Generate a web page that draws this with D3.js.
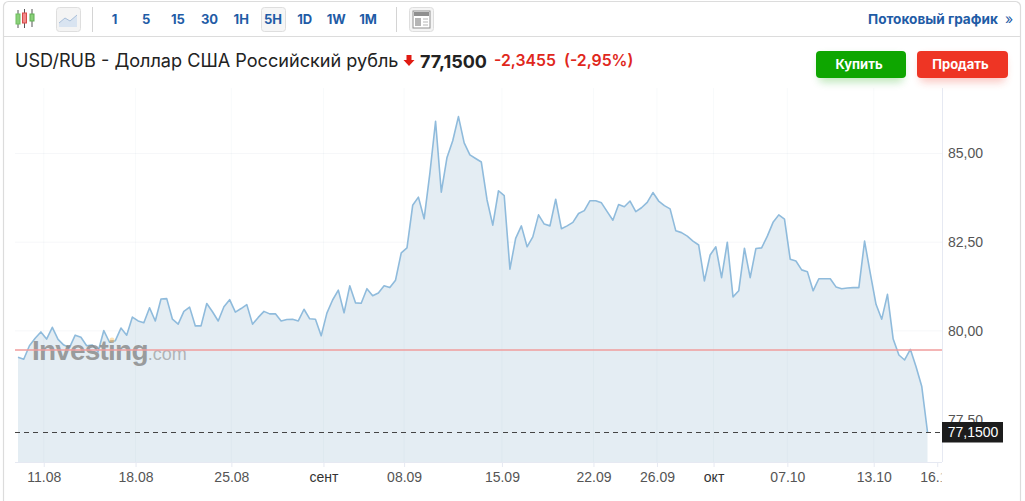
<!DOCTYPE html>
<html>
<head>
<meta charset="utf-8">
<script src="https://cdn.jsdelivr.net/npm/d3@7"></script>
<style>
  html, body { margin: 0; padding: 0; background: #fff; overflow: hidden; }
  svg { display: block; font-family: Inter, "Liberation Sans", sans-serif; }
  .axis text { font-family: "Liberation Sans", Arial, sans-serif; font-size: 14px; fill: #555; }
  .axis .tick line { stroke: #e6e9f2; }
</style>
</head>
<body>
<svg id="chart" width="1025" height="501"></svg>
<script>
// DATA
const prices = [
  79.26, 79.20, 79.58, 79.79, 79.97, 79.77, 80.10, 79.76, 79.60, 79.53,
  79.88, 79.82, 79.58, 79.60, 79.41, 80.01, 79.68, 79.72, 80.08, 79.88,
  80.39, 80.28, 80.23, 80.65, 80.28, 80.90, 80.91, 80.33, 80.19, 80.55,
  80.67, 80.14, 80.14, 80.77, 80.54, 80.28, 80.68, 80.88, 80.53, 80.63,
  80.74, 80.19, 80.38, 80.55, 80.48, 80.48, 80.28, 80.32, 80.33, 80.28,
  80.61, 80.34, 80.33, 79.86, 80.50, 80.87, 81.15, 80.51, 81.27, 80.79,
  80.78, 81.19, 80.99, 81.07, 81.27, 81.22, 81.43, 82.20, 82.34, 83.54,
  83.77, 83.16, 84.44, 85.91, 83.91, 84.89, 85.36, 86.04, 85.30, 84.96,
  84.86, 84.76, 83.69, 82.98, 83.95, 83.81, 81.74, 82.61, 82.96, 82.37,
  82.65, 83.27, 83.01, 82.96, 83.71, 82.88, 82.96, 83.06, 83.31, 83.39,
  83.67, 83.67, 83.61, 83.36, 83.12, 83.56, 83.50, 83.66, 83.36, 83.47,
  83.62, 83.90, 83.66, 83.53, 83.44, 82.82, 82.77, 82.67, 82.53, 82.42,
  81.41, 82.14, 82.37, 81.50, 82.50, 80.96, 81.13, 82.33, 81.50, 82.32,
  82.34, 82.67, 83.06, 83.27, 83.15, 82.02, 81.97, 81.72, 81.67, 81.13,
  81.47, 81.47, 81.47, 81.24, 81.19, 81.21, 81.22, 81.22, 82.53, 81.62,
  80.75, 80.33, 81.03, 79.77, 79.32, 79.18, 79.48, 78.99, 78.43, 77.15
];
const xTickLabels = ["11.08", "18.08", "25.08", "сент", "08.09", "15.09", "22.09", "26.09", "окт", "07.10", "13.10", "16.10"];
const xTickIndex = [4.5, 20.55, 37.3, 53.4, 67.5, 84.6, 100.6, 111.7, 121.6, 134.5, 149.6, 160.7];
const yTicks = [77.5, 80, 82.5, 85];
const prevClose = 79.46;
const lastPrice = 77.15;
const intervals = ["1", "5", "15", "30", "1H", "5H", "1D", "1W", "1M"];

// CONSTANTS
const plotLeft = 15;
const plotRight = 942;
const plotBottom = 462;
const lineColor = "#8fbbdc";
const fillColor = "#e4edf3";
const blue = "#1f5ca6";
const gridColor = "#f6f7f9";

const svg = d3.select("#chart");

const x = d3.scaleLinear().domain([0, prices.length - 1]).range([18, 927.5]);
const y = d3.scaleLinear().domain([85, 77.15]).range([153.5, 432]);
const comma = (d) => d3.format(".2f")(d).replace(".", ",");

// frame
svg.append("rect")
  .attr("x", 3.5).attr("y", 1.5).attr("width", 1017).attr("height", 520).attr("rx", 5)
  .attr("fill", "#fff").attr("stroke", "#dcdcdc").attr("stroke-width", 1.2);
svg.append("line")
  .attr("x1", 3.5).attr("x2", 1020.5).attr("y1", 36.5).attr("y2", 36.5)
  .attr("stroke", "#dcdcdc").attr("stroke-width", 1.2);

// toolbar
const iconBox = (bx, fill) => svg.append("rect")
  .attr("x", bx + 0.5).attr("y", 7.5).attr("width", 24).attr("height", 24).attr("rx", 3)
  .attr("fill", fill).attr("stroke", "#dedede");

// candles icon
[[18, 10, 28, 14, 24, "#6fbf5f", "#8bd07a"], [24.5, 9, 28, 13, 23, "#d94a4a", "#f08a8a"], [32, 9, 27, 14, 21, "#5fae52", "#8bd07a"]].forEach((c) => {
  svg.append("line").attr("x1", c[0]).attr("x2", c[0]).attr("y1", c[1]).attr("y2", c[2]).attr("stroke", "#555");
  svg.append("rect").attr("x", c[0] - 2).attr("y", c[3]).attr("width", 4).attr("height", c[4] - c[3])
    .attr("fill", c[6]).attr("stroke", c[5]);
});

// line icon
iconBox(56, "#f4f4f4");
svg.append("path").attr("d", "M59 27V23L65 18L70 21L77 15V27Z").attr("fill", "#d9e4f1");
svg.append("path").attr("d", "M59 23L65 18L70 21L77 15").attr("fill", "none").attr("stroke", "#a9bfd9");

[92.5, 396.5].forEach((d) => {
  svg.append("line").attr("x1", d).attr("x2", d).attr("y1", 7).attr("y2", 32).attr("stroke", "#d4d4d4");
});

iconBox(261, "#f6f6f6");

const intervalX = d3.scalePoint().domain(intervals).range([114.5, 368]);
svg.selectAll(".interval").data(intervals).enter().append("text")
  .attr("class", "interval")
  .attr("x", (d) => intervalX(d))
  .attr("y", 24)
  .attr("text-anchor", "middle")
  .attr("font-size", 13).attr("font-weight", 700).attr("fill", blue)
  .text((d) => d);

// layout icon
iconBox(409, "#f4f4f4");
svg.append("rect").attr("x", 413).attr("y", 11).attr("width", 17).attr("height", 17).attr("fill", "#fff").attr("stroke", "#8f8f8f");
svg.append("rect").attr("x", 414).attr("y", 12).attr("width", 15).attr("height", 4).attr("fill", "#8f8f8f");
svg.append("rect").attr("x", 415).attr("y", 18).attr("width", 6).attr("height", 8).attr("fill", "#b5b5b5");
[19, 22, 25].forEach((d) => {
  svg.append("line").attr("x1", 423).attr("x2", 428).attr("y1", d).attr("y2", d).attr("stroke", "#b5b5b5");
});

svg.append("text").attr("x", 868).attr("y", 24)
  .attr("font-size", 13.6).attr("font-weight", 700).attr("fill", blue).text("Потоковый график");
svg.append("text").attr("x", 1005).attr("y", 24)
  .attr("font-size", 14).attr("fill", blue).text("»");

// header
svg.append("text").attr("x", 15).attr("y", 67)
  .attr("font-size", 18.1).attr("fill", "#222").text("USD/RUB - Доллар США Российский рубль");
svg.append("path").attr("d", "M406.5 55H411.5V60H414.5L409 66L403.5 60H406.5Z").attr("fill", "#e01b12");
svg.append("text").attr("x", 420).attr("y", 68)
  .attr("font-size", 18).attr("font-weight", 700).attr("fill", "#222").text("77,1500");
svg.append("text").attr("x", 494).attr("y", 66)
  .attr("font-size", 15.8).attr("font-weight", 600).attr("fill", "#e0271c").text("-2,3455");
svg.append("text").attr("x", 564).attr("y", 66)
  .attr("font-size", 15.8).attr("font-weight", 600).attr("fill", "#e0271c").text("(-2,95%)");

// buttons
const defs = svg.append("defs");
defs.append("filter").attr("id", "soft").attr("x", "-20%").attr("y", "-40%").attr("width", "140%").attr("height", "200%")
  .append("feGaussianBlur").attr("stdDeviation", 4);
defs.append("clipPath").attr("id", "plot-clip").append("rect")
  .attr("x", 0).attr("y", -5).attr("width", plotRight - 0.5).attr("height", 40);

[["Купить", 816, 90, "#0ea600"], ["Продать", 917, 91, "#ee3524"]].forEach((b) => {
  svg.append("rect").attr("x", b[1] + 3).attr("y", 56).attr("width", b[2] - 6).attr("height", 26).attr("rx", 4)
    .attr("fill", b[3]).attr("opacity", 0.28).attr("filter", "url(#soft)");
  svg.append("rect").attr("x", b[1]).attr("y", 51).attr("width", b[2]).attr("height", 27).attr("rx", 4).attr("fill", b[3]);
  svg.append("text").attr("x", b[1] + b[2] / 2 - 2).attr("y", 69).attr("text-anchor", "middle")
    .attr("font-size", 13).attr("font-weight", 700).attr("fill", "#fff").text(b[0]);
});

// grid
svg.append("g").selectAll("line").data(yTicks.slice(1)).enter().append("line")
  .attr("x1", plotLeft).attr("x2", plotRight)
  .attr("y1", (d) => y(d)).attr("y2", (d) => y(d))
  .attr("stroke", gridColor);

const chart = svg.append("g");

const area = d3.area().x((d, i) => x(i)).y0(plotBottom).y1((d) => y(d));
const line = d3.line().x((d, i) => x(i)).y((d) => y(d));

chart.append("path").datum(prices).attr("d", area).attr("fill", fillColor);

svg.append("g").selectAll("line").data(xTickIndex.slice(0, -1)).enter().append("line")
  .attr("x1", (d) => x(d)).attr("x2", (d) => x(d))
  .attr("y1", 88).attr("y2", plotBottom)
  .attr("stroke", "#8aa4bd").attr("stroke-opacity", 0.06);

// watermark
const mark = svg.append("text").attr("x", 32).attr("y", 360)
  .attr("font-family", "'Liberation Sans', Arial, sans-serif");
mark.append("tspan").attr("font-size", 28).attr("font-weight", 700).attr("letter-spacing", -0.8)
  .attr("fill", "#808080").attr("fill-opacity", 0.75).text("Investing");
mark.append("tspan").attr("font-size", 18).attr("fill", "#8c8c8c").attr("fill-opacity", 0.6).text(".com");
svg.append("circle").attr("cx", 112).attr("cy", 340).attr("r", 2.5).attr("fill", "#f7c97a").attr("opacity", 0.55);

chart.append("path").datum(prices).attr("d", line)
  .attr("fill", "none").attr("stroke", lineColor).attr("stroke-width", 1.6).attr("stroke-linejoin", "round");

// axes
const xAxis = d3.axisBottom(x)
  .tickValues(xTickIndex)
  .tickFormat((d, i) => xTickLabels[i])
  .tickSizeInner(5).tickSizeOuter(0).tickPadding(5);
const gx = svg.append("g").attr("class", "axis")
  .attr("clip-path", "url(#plot-clip)")
  .attr("transform", `translate(0,${plotBottom})`)
  .call(xAxis);
gx.select(".domain").remove();
gx.selectAll(".tick text")
  .style("fill", (d, i) => (/\d/.test(xTickLabels[i]) ? "#555" : "#333"));
svg.append("line").attr("x1", plotLeft).attr("x2", plotRight).attr("y1", plotBottom + 0.5).attr("y2", plotBottom + 0.5).attr("stroke", "#e6e9f2");

const yAxis = d3.axisRight(y).tickValues(yTicks).tickFormat(comma).tickSize(0).tickPadding(6);
const gy = svg.append("g").attr("class", "axis")
  .attr("transform", `translate(${plotRight},0)`)
  .call(yAxis);
gy.select(".domain").remove();
svg.append("line").attr("x1", plotRight + 0.5).attr("x2", plotRight + 0.5).attr("y1", 88).attr("y2", plotBottom).attr("stroke", "#e6e9f2");

// previous close and last price
svg.append("line").attr("x1", plotLeft).attr("x2", plotRight)
  .attr("y1", y(prevClose)).attr("y2", y(prevClose))
  .attr("stroke", "#f19c9c").attr("stroke-width", 1.6);
svg.append("line").attr("x1", plotLeft).attr("x2", plotRight)
  .attr("y1", y(lastPrice)).attr("y2", y(lastPrice))
  .attr("stroke", "#444").attr("stroke-dasharray", "5,4.2").attr("shape-rendering", "crispEdges");

svg.append("rect").attr("x", plotRight).attr("y", y(lastPrice) - 10).attr("width", 61).attr("height", 20.5).attr("fill", "#1c1c1c");
svg.append("text").attr("x", plotRight + 31).attr("y", y(lastPrice) + 5)
  .attr("text-anchor", "middle")
  .attr("font-family", "'Liberation Sans', Arial, sans-serif")
  .attr("font-size", 14).attr("fill", "#fff").text("77,1500");
</script>
</body>
</html>
